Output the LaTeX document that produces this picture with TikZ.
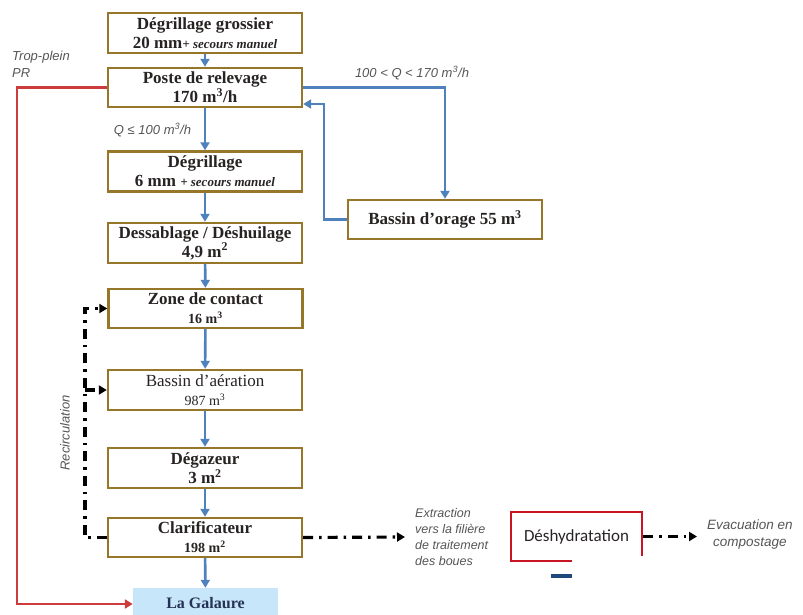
\documentclass[tikz,border=0pt]{standalone}
\usepackage{fontspec}
\setmainfont{Liberation Serif}
\newfontfamily\annfont{Liberation Sans}
\newfontfamily\carl{Carlito}
\usetikzlibrary{arrows.meta,calc}
\definecolor{boxedge}{RGB}{150,118,40}
\definecolor{flowblue}{RGB}{79,129,189}
\definecolor{redline}{RGB}{205,60,60}
\definecolor{anngray}{RGB}{85,85,85}
\definecolor{galfill}{RGB}{200,230,250}
\definecolor{galtext}{RGB}{35,50,85}
\definecolor{navy}{RGB}{31,73,125}
\definecolor{redbox}{RGB}{200,20,35}
\definecolor{boxtext}{RGB}{40,35,35}
\newcommand{\smallline}[1]{{\fontsize{14}{19}\selectfont #1}}
\newcommand{\secours}{{\fontsize{13}{19}\selectfont\itshape + secours manuel}}
\begin{document}
\begin{tikzpicture}[x=1pt,y=-1pt,
  stage/.style={draw=boxedge, line width=2.4pt, fill=white, minimum width=194pt,
    minimum height=40pt, align=center, inner sep=0pt, text=boxtext,
    font=\fontsize{17}{19}\selectfont\bfseries},
  flow/.style={draw=flowblue, line width=2.6pt, -{Triangle[length=8pt,width=9pt]}},
  overflow/.style={draw=redline, line width=2.6pt, -{Triangle[length=8pt,width=9pt]}},
  recirc/.style={draw=black, line width=3.2pt, dash pattern=on 10pt off 6pt on 2.5pt off 6pt,
    -{Triangle[length=8pt,width=9pt]}},
  ann/.style={text=anngray, font=\annfont\fontsize{13}{16.5}\selectfont\itshape, inner sep=0pt}
]
\clip (0,0) rectangle (803,614);
\useasboundingbox (0,0) rectangle (803,614);

% main chain
\node[stage] (g1) at (205,33) {Dégrillage grossier\\20 mm\secours};
\node[stage, minimum height=39pt] (pr) at (205,87.5) {Poste de relevage\\170 m\textsuperscript{3}/h};
\node[stage] (dg) at (205,171.5) {Dégrillage\\6 mm \secours};
\node[stage] (ds) at (205,243) {Dessablage / Déshuilage\\4,9 m\textsuperscript{2}};
\node[stage, minimum height=39pt] (zc) at (205.5,308.5) {Zone de contact\\\smallline{16 m\textsuperscript{3}}};
\node[stage, font=\fontsize{17}{19}\selectfont] (ba) at (205,390) {Bassin d’aération\\\smallline{987 m\textsuperscript{3}}};
\node[stage] (dz) at (205,468) {Dégazeur\\3 m\textsuperscript{2}};
\node[stage, minimum height=39pt] (cl) at (205,537.5) {Clarificateur\\\smallline{198 m\textsuperscript{2}}};
\node[fill=galfill, minimum width=145pt, minimum height=36pt, inner sep=0pt, text=galtext,
  font=\fontsize{16}{18}\selectfont\bfseries, text depth=6pt] (lg) at (205.5,606) {La Galaure};
\node[stage, minimum height=39pt] (bo) at (445,219.5) {Bassin d’orage 55 m\textsuperscript{3}};

\draw[flow] (g1) -- (pr);
\draw[flow] (pr) -- (dg);
\draw[flow] (dg) -- (ds);
\draw[flow] (ds) -- (zc);
\draw[flow] (zc) -- (ba);
\draw[flow] (ba) -- (dz);
\draw[flow] (dz) -- (cl);
\draw[flow] (cl) -- (lg);

% storm basin loop
\draw[flow] (pr.east) -| (bo.north);
\coordinate (r1) at (324,104);
\draw[flow] (bo.west) -| (r1) -- (r1 -| pr.east);

% overflow
\coordinate (t1) at (17,604);
\draw[overflow] (pr.west) -| (t1) -- (t1 -| lg.west);

% recirculation
\coordinate (rc) at (85,537.5);
\draw[recirc] (cl.west) -- (rc) |- (zc.west);
\draw[recirc] (rc |- ba.west) -- (ba.west);

% labels
\node[ann, anchor=north west, align=left] (tp) at (12,51) {Trop-plein\\PR};
\node[ann] (q1) at (412,73) {100 < Q < 170 m\textsuperscript{3}/h};
\node[ann] (q2) at (152.5,130) {Q ≤ 100 m\textsuperscript{3}/h};
\node[ann, rotate=90] (rcl) at (65,433) {Recirculation};

% sludge line
\node[ann, anchor=west, align=left, inner xsep=10pt, font=\annfont\fontsize{12.5}{16}\selectfont\itshape] (ext) at (405,537)
  {Extraction\\vers la filière\\de traitement\\des boues};
\draw[recirc] (cl.east) -- (ext.west);
\node[draw=redbox, line width=2.6pt, minimum width=131pt, minimum height=49pt, inner sep=0pt,
  font=\carl\fontsize{17}{19}\selectfont, text=boxtext] (dh) at (576.5,536.5) {Déshydratation};
\fill[white] (572,556) rectangle (652,614);
\draw[navy, line width=3.5pt] (551,576) -- (572,576);
\node[ann, anchor=west, align=center, inner xsep=10pt, font=\annfont\fontsize{13.5}{17}\selectfont\itshape] (ev) at (697,534)
  {Evacuation en\\compostage};
\draw[recirc] (dh.east) -- (ev.west |- dh.east);
\end{tikzpicture}
\end{document}
